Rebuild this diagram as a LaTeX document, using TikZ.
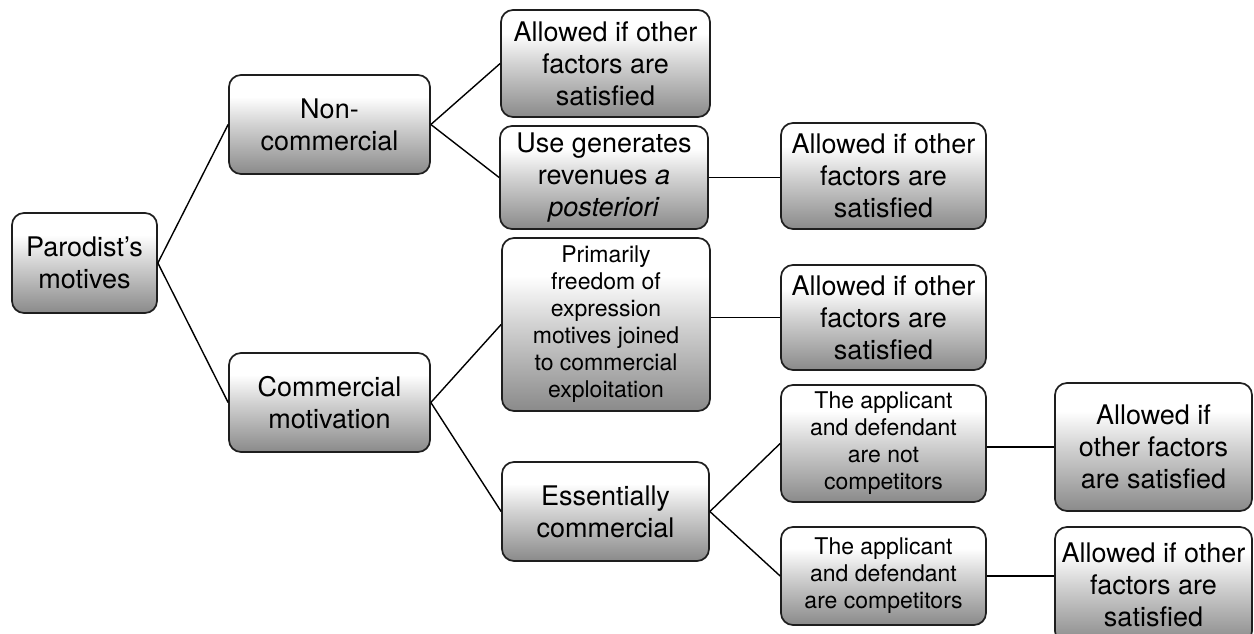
\documentclass[tikz,border=0pt]{standalone}
\usepackage{fontspec}
\setmainfont{TeX Gyre Heros}
\definecolor{gB}{HTML}{8A8A8A}
\definecolor{gM}{HTML}{D2D2D2}
\definecolor{edge}{HTML}{1E1E1E}
\pgfdeclareverticalshading{boxshade}{100bp}{color(0bp)=(gB); color(25bp)=(gB); color(50bp)=(gM); color(64bp)=(white); color(100bp)=(white)}
\tikzset{
  box/.style={draw=edge, line width=1.7pt, rounded corners=12pt, shading=boxshade,
    align=center, inner sep=0pt, font=\fontsize{27}{32}\selectfont, text=black},
  small/.style={font=\fontsize{23}{27}\selectfont},
  link/.style={draw=black, line width=1.4pt},
}
\begin{document}
\begin{tikzpicture}[x=1pt,y=-1pt]
\useasboundingbox (0,0) rectangle (1254,634);
\node[box, minimum width=145pt, minimum height=100pt] (root) at (84.5,263) {Parodist’s\\motives};
\node[box, minimum width=201pt, minimum height=99pt] (nc) at (329.5,124.5) {Non-\\commercial};
\node[box, minimum width=201pt, minimum height=99pt] (cm) at (329.5,402.5) {Commercial\\motivation};
\node[box, minimum width=209pt, minimum height=107pt] (a1) at (605.5,63.5) {Allowed if other\\factors are\\satisfied};
\node[box, minimum width=208pt, minimum height=103pt] (ug) at (604,177.5) {Use generates\\revenues \textit{a}\\\textit{posteriori}};
\node[box, minimum width=205pt, minimum height=106pt] (a2) at (883.5,176) {Allowed if other\\factors are\\satisfied};
\node[box, small, minimum width=208pt, minimum height=173pt] (pf) at (606,324.5) {Primarily\\freedom of\\expression\\motives joined\\to commercial\\exploitation};
\node[box, minimum width=205pt, minimum height=105pt] (a3) at (883.5,317.5) {Allowed if other\\factors are\\satisfied};
\node[box, minimum width=207pt, minimum height=99pt] (ec) at (605.5,511.5) {Essentially\\commercial};
\node[box, small, minimum width=205pt, minimum height=117pt] (an) at (883.5,443.5) {The applicant\\and defendant\\are not\\competitors};
\node[box, small, minimum width=205pt, minimum height=98pt] (ac) at (883.5,576) {The applicant\\and defendant\\are competitors};
\node[box, minimum width=197pt, minimum height=128pt] (a4) at (1153.5,447) {Allowed if\\other factors\\are satisfied};
\node[box, minimum width=197pt, minimum height=116pt] (a5) at (1153.5,585) {Allowed if other\\factors are\\satisfied};
\draw[link] (root.east) -- (nc.west);
\draw[link] (root.east) -- (cm.west);
\draw[link] (nc.east) -- (a1.west);
\draw[link] (nc.east) -- (ug.west);
\draw[link] (ug.east) -- (ug.east -| a2.west);
\draw[link] (cm.east) -- (pf.west);
\draw[link] (cm.east) -- (ec.west);
\draw[link] (a3.west -| pf.east) -- (a3.west);
\draw[link] (ec.east) -- (an.west);
\draw[link] (ec.east) -- (ac.west);
\draw[link] (a4.west -| an.east) -- (a4.west);
\draw[link] (ac.east) -- (ac.east -| a5.west);
\end{tikzpicture}
\end{document}
